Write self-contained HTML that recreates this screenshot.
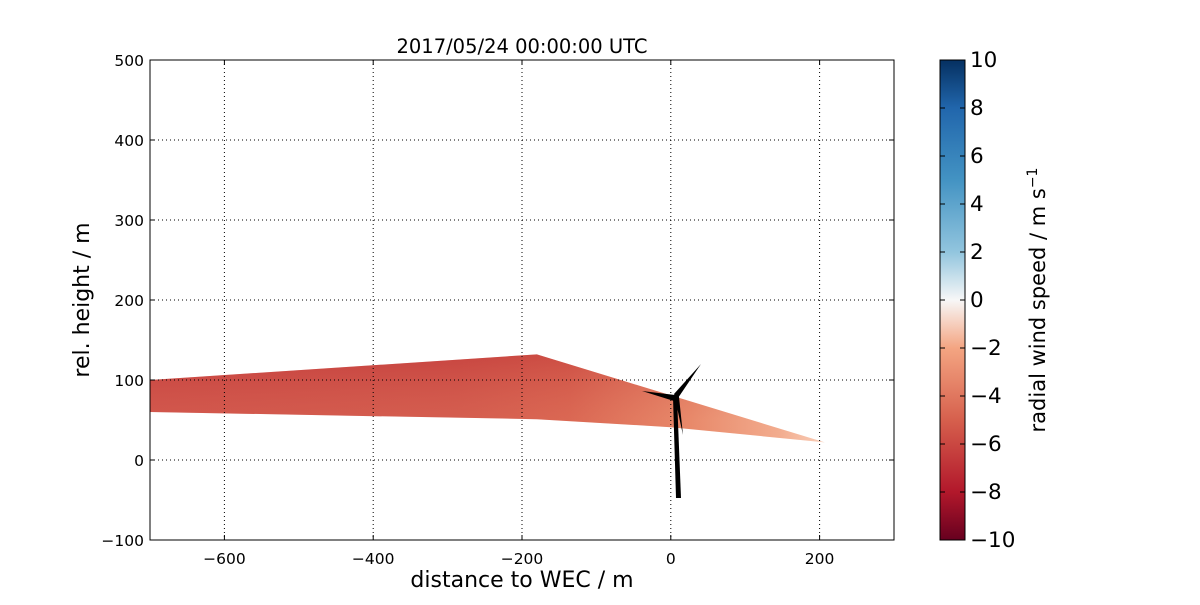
<!DOCTYPE html>
<html><head><meta charset="utf-8"><style>
body{margin:0;background:#fff;}
svg text{font-family:"DejaVu Sans","Liberation Sans",sans-serif;}
</style></head><body>
<svg id="chart" width="1200" height="600" viewBox="0 0 1200 600" xmlns="http://www.w3.org/2000/svg">
<defs>
<linearGradient id="wedgeGrad" x1="150" y1="0" x2="826" y2="0" gradientUnits="userSpaceOnUse">
<stop offset="0" stop-color="#cc4a43"/>
<stop offset="0.45" stop-color="#cf5146"/>
<stop offset="0.62" stop-color="#d65d4b"/>
<stop offset="0.8" stop-color="#e68466"/>
<stop offset="0.93" stop-color="#f2ad90"/>
<stop offset="1" stop-color="#fad7c4"/>
</linearGradient>
<linearGradient id="shadeGrad" x1="0" y1="354" x2="0" y2="420" gradientUnits="userSpaceOnUse">
<stop offset="0" stop-color="#b01f2e" stop-opacity="0.25"/>
<stop offset="1" stop-color="#f4a582" stop-opacity="0.15"/>
</linearGradient>
<linearGradient id="cbGrad" x1="0" y1="1" x2="0" y2="0">
<stop offset="0" stop-color="#67001f"/>
<stop offset="0.1" stop-color="#b2182b"/>
<stop offset="0.25" stop-color="#d6604d"/>
<stop offset="0.4" stop-color="#f4a582"/>
<stop offset="0.5" stop-color="#f7f7f7"/>
<stop offset="0.6" stop-color="#92c5de"/>
<stop offset="0.75" stop-color="#4393c3"/>
<stop offset="0.9" stop-color="#2166ac"/>
<stop offset="1" stop-color="#053061"/>
</linearGradient>
</defs>
<g id="plot"></g>
</svg>
<script>
const xTicks=[-600,-400,-200,0,200];
const yTicks=[-100,0,100,200,300,400,500];
const wedgeX=[-700,-180,207,0,-180,-700];
const wedgeY=[100,132,22,41,51,60];
const cbTicks=[-10,-8,-6,-4,-2,0,2,4,6,8,10];
const L=150,R=894,T=60,B=540,xMin=-700,xMax=300,yMin=-100,yMax=500;
const sx=v=>L+(v-xMin)/(xMax-xMin)*(R-L);
const sy=v=>B-(v-yMin)/(yMax-yMin)*(B-T);
const NS='http://www.w3.org/2000/svg';
const g=document.getElementById('plot');
function mk(tag,attrs,parent){const e=document.createElementNS(NS,tag);for(const k in attrs)e.setAttribute(k,attrs[k]);(parent||g).appendChild(e);return e;}

const pts=wedgeX.map((x,i)=>sx(x)+','+sy(wedgeY[i])).join(' ');
let w=mk('polygon',{points:pts,fill:'url(#wedgeGrad)'});


let w2=mk('polygon',{points:pts,fill:'url(#shadeGrad)'});



xTicks.forEach(v=>{let l=mk('line',{x1:sx(v),x2:sx(v),y1:T,y2:B,stroke:'#000','stroke-width':1,'stroke-dasharray':'1,3'});

});
yTicks.forEach(v=>{if(v===yMin||v===yMax)return;let l=mk('line',{x1:L,x2:R,y1:sy(v),y2:sy(v),stroke:'#000','stroke-width':1,'stroke-dasharray':'1,3'});

});

const tb=mk('g',{fill:'#000'});


mk('polygon',{points:'673,397 677,397 681,498 676,498'},tb);
mk('polygon',{points:'674,394 701,364 678,398'},tb);
mk('polygon',{points:'642,391 675,395 674,401'},tb);
mk('polygon',{points:'675,398 679,397 683,435'},tb);
mk('circle',{cx:676,cy:397,r:3},tb);

let fr=mk('rect',{x:L,y:T,width:R-L,height:B-T,fill:'none',stroke:'#000','stroke-width':1});



xTicks.forEach(v=>{
 mk('line',{x1:sx(v),x2:sx(v),y1:B,y2:B-5,stroke:'#000'});mk('line',{x1:sx(v),x2:sx(v),y1:T,y2:T+5,stroke:'#000'});
 let t=mk('text',{x:sx(v),y:B+24,'text-anchor':'middle','font-size':15.5});t.textContent=(v<0?'\u2212'+(-v):v);
 
 
});
yTicks.forEach(v=>{
 mk('line',{x1:L,x2:L+5,y1:sy(v),y2:sy(v),stroke:'#000'});mk('line',{x1:R,x2:R-5,y1:sy(v),y2:sy(v),stroke:'#000'});
 let t=mk('text',{x:L-6,y:sy(v)+6,'text-anchor':'end','font-size':15.5});t.textContent=(v<0?'\u2212'+(-v):v);
 
 
});

let tt=mk('text',{x:(L+R)/2,y:53,'text-anchor':'middle','font-size':19.5});tt.textContent='2017/05/24 00:00:00 UTC';


let xl=mk('text',{x:(L+R)/2,y:587,'text-anchor':'middle','font-size':22});xl.textContent='distance to WEC / m';


let yl=mk('text',{x:0,y:0,'text-anchor':'middle','font-size':22,transform:'translate(89,300) rotate(-90)'});yl.textContent='rel. height / m';



const cL=940,cR=965,cT=60,cB=540;
let cb=mk('rect',{x:cL,y:cT,width:cR-cL,height:cB-cT,fill:'url(#cbGrad)',stroke:'#000'});


const cy=v=>cB-(v+10)/20*(cB-cT);
cbTicks.forEach(v=>{
 mk('line',{x1:cR-5,x2:cR,y1:cy(v),y2:cy(v),stroke:'#000'});mk('line',{x1:cL,x2:cL+5,y1:cy(v),y2:cy(v),stroke:'#000'});
 let t=mk('text',{x:970,y:cy(v)+7,'font-size':21.5});t.textContent=(v<0?'\u2212'+(-v):v);
 
 
});
let cl=mk('text',{x:0,y:0,'text-anchor':'middle','font-size':21,transform:'translate(1045,300) rotate(-90)'});
cl.innerHTML='radial wind speed / m s<tspan dy="-8" font-size="14">\u22121</tspan>';


</script>
</body></html>
